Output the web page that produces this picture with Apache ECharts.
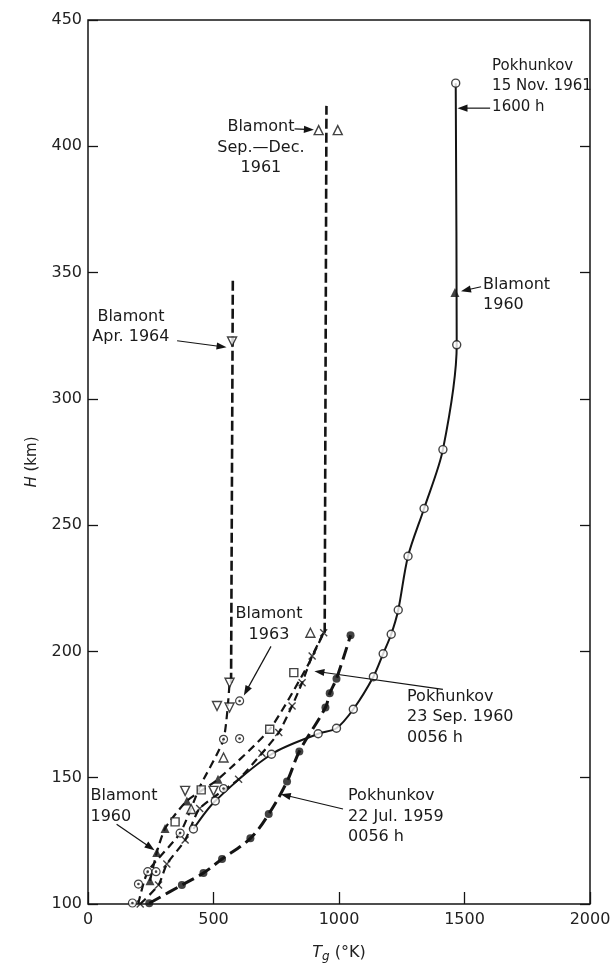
<!DOCTYPE html>
<html>
<head>
<meta charset="utf-8">
<script src="https://cdn.jsdelivr.net/npm/echarts@6/dist/echarts.min.js"></script>
<style>
  html, body { margin: 0; padding: 0; background: #fff; }
  #chart { width: 616px; height: 968px; }
</style>
</head>
<body>
<div id="chart"></div>
<script>
// Gas temperature T_g (°K) against height H (km), one array per profile.
const pokhunkovJul1959 = [[244,100.3],[374,107.5],[460,112.3],[534,117.8],[647,126],[720,135.6],[793,148.5],[842,160.4],[946,177.8],[963,183.4],[990,189.2],[1046,206.4]];
const pokhunkovNov1961 = [[420,129.7],[507,140.8],[731,159.3],[917,167.4],[990,169.6],[1057,177.1],[1137,190],[1176,199.1],[1208,206.8],[1236,216.4],[1275,237.7],[1339,256.6],[1414,279.9],[1469,321.4],[1465,425]];
const pokhunkovSep1960 = [[208,100],[281,107.5],[314,115.8],[387,125.3],[445,137.8],[600,149.4],[693,159.7],[760,167.9],[813,178.4],[853,187.6],[893,198.2],[939,207.4]];
const squarePoints = [[347,132.5],[451,145.2],[724,169.2],[820,191.6]];
const blamontSepDec1961 = [[411,137.6],[540,158],[886,207.4],[919,406.4],[995,406.4]];
const blamont1960 = [[247,109.2],[274,120.4],[307,129.9],[394,140.8],[518,149.4],[1462,342.1]];
const blamont1963 = [[177,100.4],[201,107.9],[238,112.8],[271,112.8],[367,128.1],[540,145.7],[540,165.2],[604,165.5],[604,180.4]];
const blamontApr1964 = [[387,144.8],[500,144.8],[514,178.4],[564,177.8],[564,187.6],[574,322.7]];

// Hand-drawn curve paths joining the profiles.
const curveFilled1959 = pokhunkovJul1959;
const curveOpen1961 = pokhunkovNov1961;
const curveCross1960 = pokhunkovSep1960;
const curveSepDecVertical = [[943,207.4],[950,416]];
const curveTriangleSquare = [[247,109.2],[274,120.4],[307,129.9],[394,140.8],[518,149.4],[724,169.2],[873,194],[939,207.4]];
const curveDotted1963 = [[200,100],[238,112.8],[367,128.1],[447,146.7],[540,165.2],[564,187.6]];
const curveApr1964Vertical = [[570,187.6],[577,347.4]];

// Axis ticks
const xTicks = [0, 500, 1000, 1500, 2000];
const yTicks = [100, 150, 200, 250, 300, 350, 400, 450];

// Labels and leader arrows, positioned in data units.
const notes = [
  { lines: ['Pokhunkov', '15 Nov. 1961', '1600 h'], at: [1610, 431.8], align: 'left', size: 15 },
  { lines: ['Blamont', 'Sep.\u2014Dec.', '1961'], at: [689, 407.6], align: 'center' },
  { lines: ['Blamont', 'Apr. 1964'], at: [171, 332.5], align: 'center' },
  { lines: ['Blamont', '1960'], at: [1574, 345.2], align: 'left' },
  { lines: ['Blamont', '1963'], at: [721, 214.7], align: 'center' },
  { lines: ['Blamont', '1960'], at: [10, 142.8], align: 'left' },
  { lines: ['Pokhunkov', '23 Sep. 1960', '0056 h'], at: [1271, 182.2], align: 'left' },
  { lines: ['Pokhunkov', '22 Jul. 1959', '0056 h'], at: [1036, 142.7], align: 'left' }
];
const arrows = [
  { from: [1602, 415.1], to: [1472, 415.1] },
  { from: [823, 406.9], to: [900, 406.5] },
  { from: [355, 323.0], to: [552, 320.4] },
  { from: [1566, 344.4], to: [1486, 342.6] },
  { from: [729, 202.0], to: [621, 182.6] },
  { from: [114, 131.6], to: [265, 121.3] },
  { from: [1414, 185.0], to: [902, 192.2] },
  { from: [1016, 137.6], to: [768, 143.5] }
];

const INK = '#141414';
const FONT = '"DejaVu Sans", "Liberation Sans", sans-serif';

const chart = echarts.init(document.getElementById('chart'), null, { renderer: 'canvas' });

function lineSeries(data, opts) {
  return Object.assign({
    type: 'line', data: data, showSymbol: false, symbol: 'none', silent: true,
    animation: false, z: 2,
    lineStyle: { color: INK, width: 2, type: [8, 5] }
  }, opts);
}
function markSeries(data, symbol, size, style, extra) {
  return Object.assign({
    type: 'scatter', data: data, symbol: symbol, symbolSize: size, z: 5,
    animation: false, silent: true,
    itemStyle: style
  }, extra || {});
}
function plain(v) { return String(v); }

const option = {
  animation: false,
  backgroundColor: '#fff',
  grid: { left: 88, right: 26, top: 20, bottom: 63, show: true, borderColor: INK, borderWidth: 1.5, backgroundColor: 'transparent' },
  xAxis: [{
    type: 'value', min: xTicks[0], max: xTicks[xTicks.length - 1], interval: xTicks[1] - xTicks[0],
    axisLine: { show: false },
    axisTick: { show: true, inside: true, length: 12, lineStyle: { color: INK, width: 1.3 } },
    splitLine: { show: false },
    axisLabel: { margin: 8, fontSize: 16, color: '#222', fontFamily: FONT, formatter: plain },
    name: '{i|T}{s|g} (\u00B0K)', nameLocation: 'middle', nameGap: 38,
    nameTextStyle: {
      fontSize: 16, color: '#222', fontFamily: FONT,
      rich: {
        i: { fontSize: 16, fontStyle: 'italic', fontFamily: FONT, color: '#222' },
        s: { fontSize: 12, fontStyle: 'italic', fontFamily: FONT, color: '#222', padding: [9, 0, 0, 0] }
      }
    }
  }],
  yAxis: [{
    type: 'value', min: yTicks[0], max: yTicks[yTicks.length - 1], interval: yTicks[1] - yTicks[0],
    axisLine: { show: false },
    axisTick: { show: true, inside: true, length: 10, lineStyle: { color: INK, width: 1.3 } },
    splitLine: { show: false },
    axisLabel: { margin: 6, fontSize: 16, color: '#222', fontFamily: FONT, formatter: plain },
    name: '{i|H} (km)', nameLocation: 'middle', nameGap: 48,
    nameTextStyle: {
      fontSize: 15, color: '#222', fontFamily: FONT,
      rich: { i: { fontSize: 15, fontStyle: 'italic', fontFamily: FONT, color: '#222' } }
    }
  }, {
    type: 'value', position: 'right', min: yTicks[0], max: yTicks[yTicks.length - 1], interval: yTicks[1] - yTicks[0],
    axisLine: { show: false },
    axisTick: { show: true, inside: true, length: 10, lineStyle: { color: INK, width: 1.3 } },
    splitLine: { show: false },
    axisLabel: { show: false }
  }],
  series: [
    lineSeries(curveFilled1959, { smooth: 0.35, lineStyle: { color: INK, width: 3, type: [13, 6] } }),
    lineSeries(curveOpen1961, { smooth: 0.3, lineStyle: { color: INK, width: 2, type: 'solid' } }),
    lineSeries(curveCross1960, { smooth: 0.2, lineStyle: { color: INK, width: 2.2, type: [8, 5] } }),
    lineSeries(curveSepDecVertical, { lineStyle: { color: INK, width: 2.6, type: [10, 4] } }),
    lineSeries(curveTriangleSquare, { smooth: 0.2, lineStyle: { color: INK, width: 2.2, type: [8, 5] } }),
    lineSeries(curveDotted1963, { smooth: 0.2, lineStyle: { color: INK, width: 2.2, type: [8, 5] } }),
    lineSeries(curveApr1964Vertical, { lineStyle: { color: INK, width: 2.6, type: [10, 4] } }),

    markSeries(pokhunkovJul1959, 'circle', 8, { color: INK }),
    markSeries(pokhunkovNov1961, 'circle', 8, { color: '#fff', borderColor: INK, borderWidth: 1.4 }),
    markSeries(pokhunkovSep1960, 'path://M0 0L10 10M10 0L0 10', 7, { color: 'none', borderColor: INK, borderWidth: 1.4 }),
    markSeries(squarePoints, 'rect', 8, { color: '#fff', borderColor: INK, borderWidth: 1.4 }),
    markSeries(blamontSepDec1961, 'triangle', 9, { color: '#fff', borderColor: INK, borderWidth: 1.4 }),
    markSeries(blamont1960, 'triangle', 9, { color: INK }),
    markSeries(blamont1963, 'circle', 8, { color: '#fff', borderColor: INK, borderWidth: 1.2 }),
    markSeries(blamont1963, 'circle', 2.6, { color: INK }, { z: 6 }),
    markSeries(blamontApr1964, 'triangle', 9, { color: '#fff', borderColor: INK, borderWidth: 1.4 }, { symbolRotate: 180 })
  ]
};
chart.setOption(option);

// Labels and leader arrows go on top, positioned through the chart's scales.
function px(p) { return chart.convertToPixel({ gridIndex: 0 }, p); }
const LINE_H = 20.5;
const graphics = [];
notes.forEach(function (n) {
  const p = px(n.at);
  graphics.push({
    type: 'text', z: 20, silent: true,
    style: {
      text: n.lines.join('\n'), x: p[0], y: p[1] - LINE_H / 2,
      font: (n.size || 16) + 'px ' + FONT, fill: '#1a1a1a', lineHeight: LINE_H,
      textAlign: n.align, textVerticalAlign: 'top', align: n.align, verticalAlign: 'top'
    }
  });
});
arrows.forEach(function (a) {
  const s = px(a.from), e = px(a.to);
  const dx = e[0] - s[0], dy = e[1] - s[1];
  const len = Math.sqrt(dx * dx + dy * dy);
  const ux = dx / len, uy = dy / len;
  const head = 10, half = 3.6;
  const bx = e[0] - ux * head, by = e[1] - uy * head;
  graphics.push({
    type: 'line', z: 19, silent: true,
    shape: { x1: s[0], y1: s[1], x2: bx + ux * 2, y2: by + uy * 2 },
    style: { stroke: INK, lineWidth: 1.2 }
  });
  graphics.push({
    type: 'polygon', z: 19, silent: true,
    shape: { points: [[e[0], e[1]], [bx - uy * half, by + ux * half], [bx + uy * half, by - ux * half]] },
    style: { fill: INK }
  });
});
chart.setOption({ graphic: graphics });
</script>
</body>
</html>
